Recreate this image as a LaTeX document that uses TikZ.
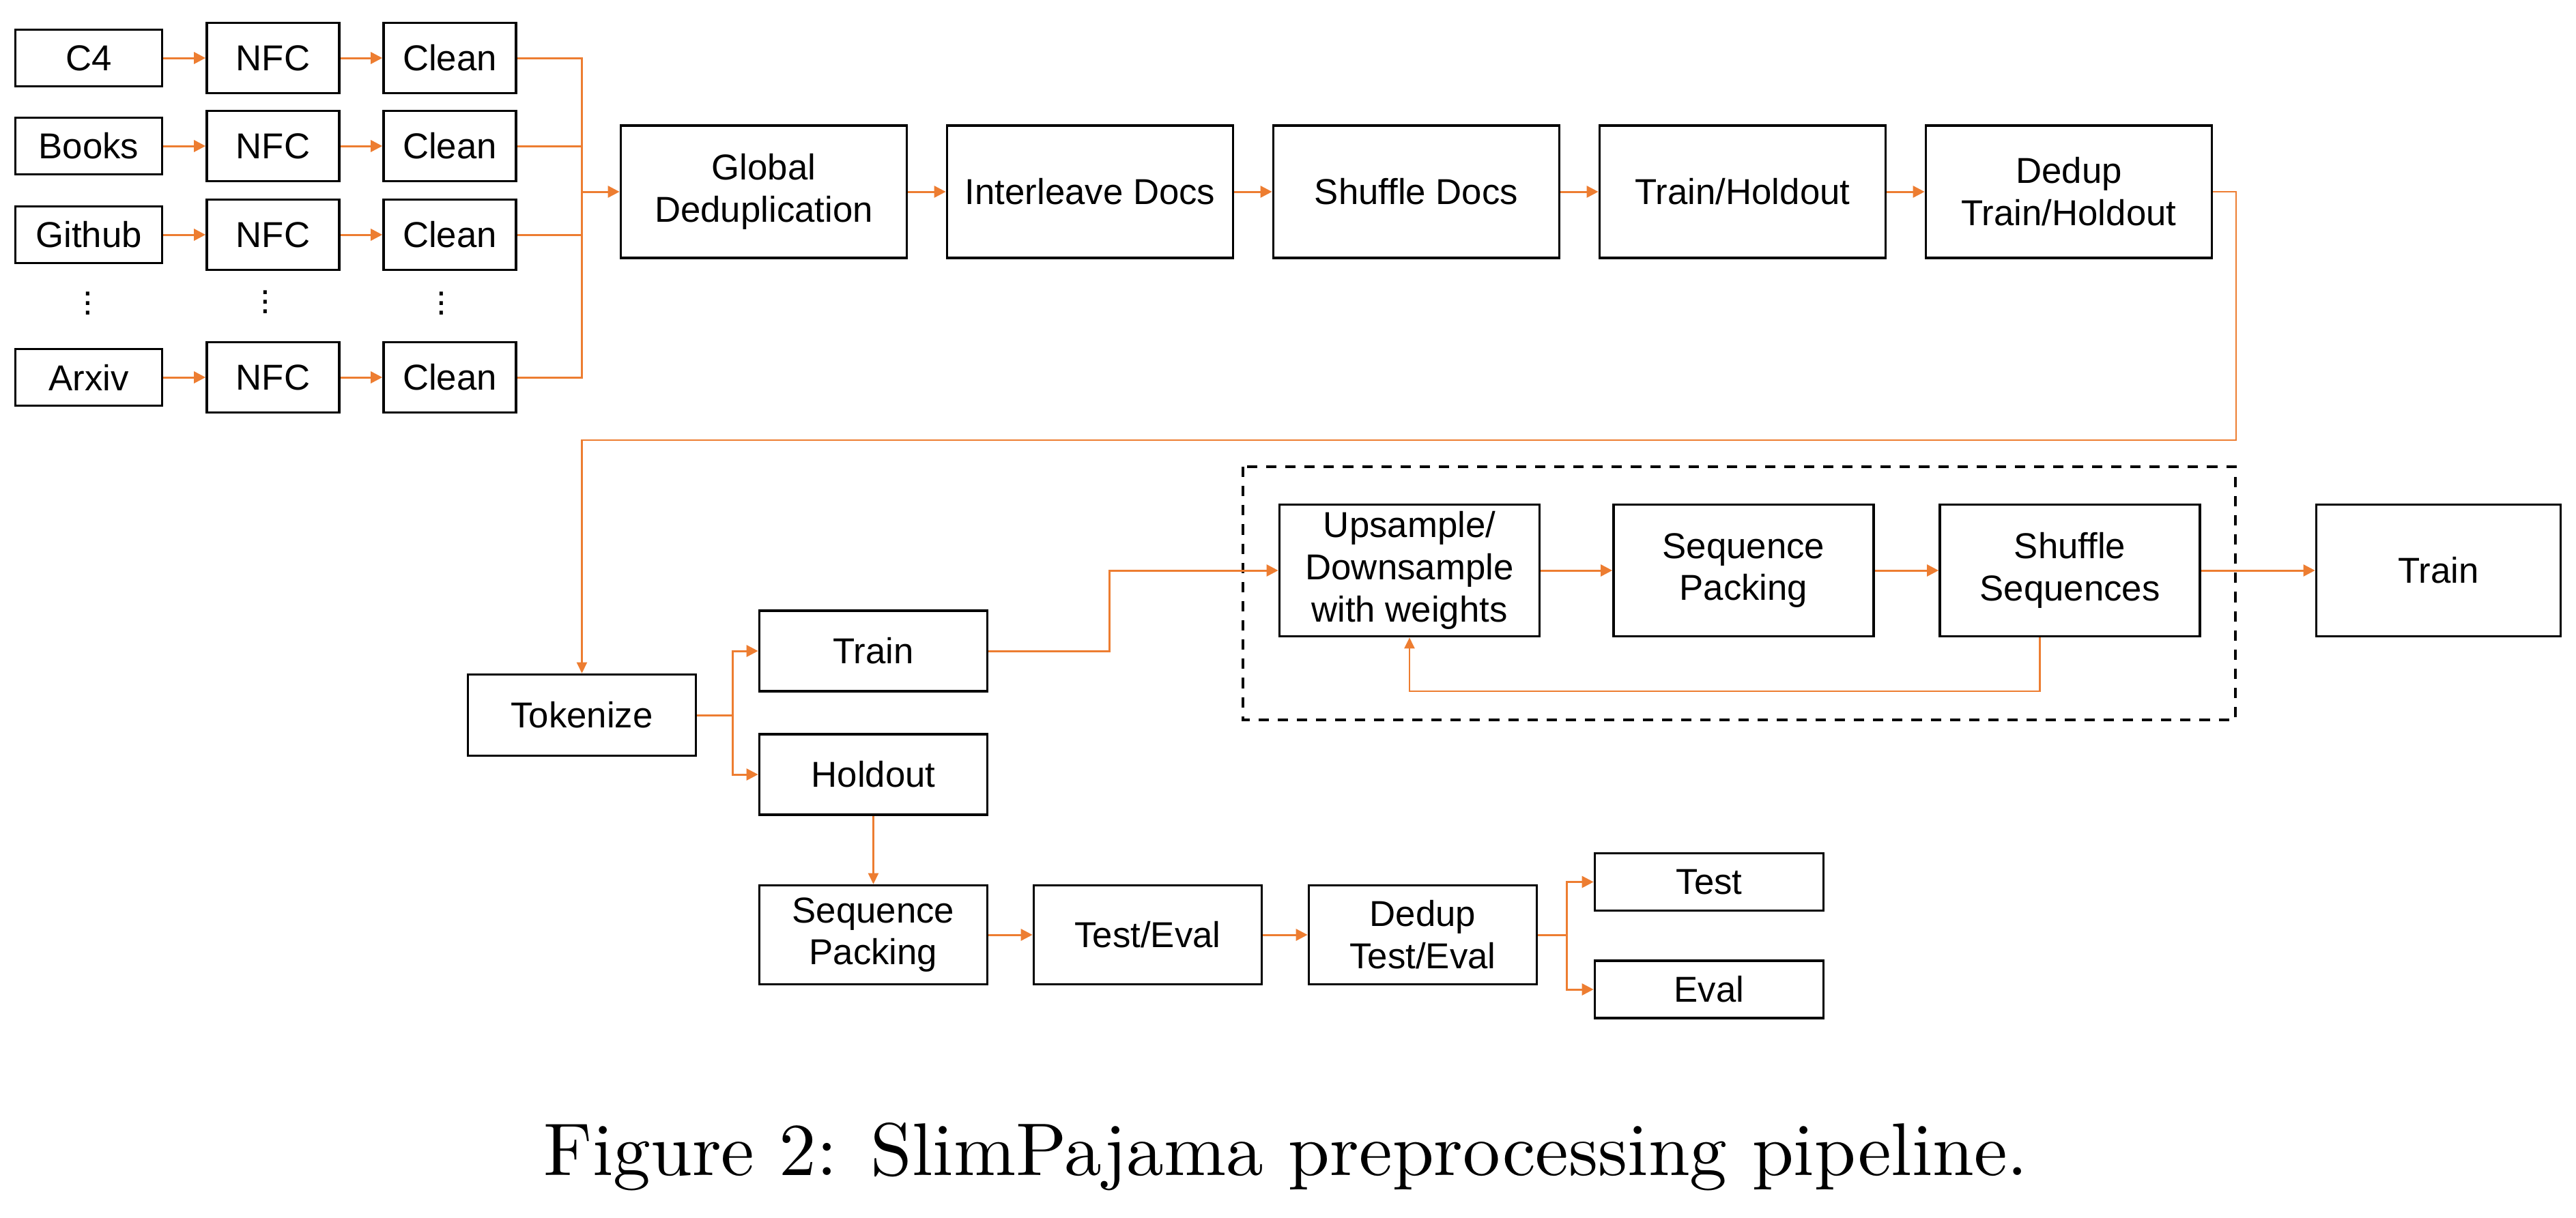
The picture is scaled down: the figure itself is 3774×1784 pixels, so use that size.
\documentclass[tikz,border=0pt]{standalone}
\usepackage{fontspec}
\newfontfamily\boxfont{Liberation Sans}
\newfontfamily\capfont{lmroman10-regular.otf}
\usepackage{tikz}
\usetikzlibrary{arrows.meta, positioning, calc}
\definecolor{myorange}{RGB}{237,125,49}
\tikzset{
  block/.style={rectangle, draw=black, fill=white, line width=1pt,
    align=center, inner sep=0pt, font=\boxfont\fontsize{15}{17.6}\selectfont},
  srcblock/.style={block, minimum width=2.15cm, minimum height=0.83cm},
  nfcblock/.style={block, minimum width=1.94cm, minimum height=1.03cm},
  wideblock/.style={block, minimum width=4.19cm, minimum height=1.94cm},
  seqblock/.style={block, minimum width=3.81cm, minimum height=1.93cm},
  midblock/.style={block, minimum width=3.34cm, minimum height=1.18cm},
  outblock/.style={block, minimum width=3.35cm, minimum height=0.84cm},
  dotnode/.style={font=\boxfont\fontsize{15}{17.6}\selectfont, inner sep=0pt},
  groupbox/.style={draw=black, line width=1pt, dash pattern=on 4.3pt off 3.7pt},
  arrow/.style={-{Triangle[length=0.17cm, width=0.17cm]}, line width=0.85pt, color=myorange},
  thinarrow/.style={-{Triangle[length=0.16cm, width=0.15cm]}, line width=0.65pt, color=myorange},
  line/.style={line width=0.85pt, color=myorange}
}

\begin{document}
\begin{tikzpicture}[x=0.01cm, y=-0.01cm]
  \useasboundingbox (0,0) rectangle (3774,1784);

  % sources -> NFC -> Clean
  \foreach \name/\txt/\y in {c4/C4/85, books/Books/214, github/Github/344, arxiv/Arxiv/553} {
    \node[srcblock] (src-\name) at (130,\y) {\txt};
    \node[nfcblock] (nfc-\name) at (400,\y) {NFC};
    \node[nfcblock] (cln-\name) at (659,\y) {Clean};
    \draw[arrow] (src-\name) -- (nfc-\name);
    \draw[arrow] (nfc-\name) -- (cln-\name);
  }
  \node[dotnode] (dots-src) at (129,434) {\vdots};
  \node[dotnode] (dots-nfc) at (389,432) {\vdots};
  \node[dotnode] (dots-cln) at (647,434) {\vdots};

  % merge bus
  \coordinate (bus) at (852,282);
  \draw[line] (cln-c4.east) -| (bus |- cln-arxiv.east) -- (cln-arxiv.east);
  \draw[line] (cln-books.east) -- (cln-books.east -| bus);
  \draw[line] (cln-github.east) -- (cln-github.east -| bus);

  % document stage
  \node[wideblock] (gdedup) at (1119,281) {Global\\Deduplication};
  \node[wideblock] (interleave) at (1597,281) {Interleave Docs};
  \node[wideblock] (shufdocs) at (2075,281) {Shuffle Docs};
  \node[wideblock] (trhold) at (2553,281) {Train/Holdout};
  \node[wideblock] (deduptrh) at (3031,281) {Dedup\\Train/Holdout};
  \draw[arrow] (bus |- gdedup) -- (gdedup);
  \draw[arrow] (gdedup) -- (interleave);
  \draw[arrow] (interleave) -- (shufdocs);
  \draw[arrow] (shufdocs) -- (trhold);
  \draw[arrow] (trhold) -- (deduptrh);

  % back down to tokenize
  \node[midblock, minimum height=1.19cm] (tokenize) at (852.5,1048) {Tokenize};
  \coordinate (turn) at (3276,645);
  \draw[thinarrow] (deduptrh.east) -| (turn) -| (tokenize.north);

  % split
  \node[midblock] (train) at (1279.5,954) {Train};
  \node[midblock] (holdout) at (1279.5,1135) {Holdout};
  \coordinate (split) at (1073,1048);
  \draw[line] (tokenize) -- (split);
  \draw[arrow] (split) |- (train);
  \draw[arrow] (split) |- (holdout);

  % sequence stage
  \draw[groupbox] (1821,684) rectangle (3275,1055);
  \node[seqblock] (upsample) at (2065,836) {Upsample/\\Downsample\\with weights};
  \node[seqblock] (seqpack) at (2554.5,836) {Sequence\\Packing};
  \node[seqblock] (shufseq) at (3032.5,836) {Shuffle\\Sequences};
  \node[seqblock, minimum width=3.58cm] (final) at (3572.5,836) {Train};
  \draw[arrow] (train.east) -- ++(177,0) |- (upsample);
  \draw[arrow] (upsample) -- (seqpack);
  \draw[arrow] (seqpack) -- (shufseq);
  \draw[arrow] (shufseq) -- (final);
  \draw[thinarrow] ([xshift=-0.44cm]shufseq.south) -- ++(0,79) -| (upsample.south);

  % holdout stage
  \node[midblock, minimum height=1.45cm] (seqpack2) at (1279.5,1370) {Sequence\\Packing};
  \node[midblock, minimum height=1.45cm] (testeval) at (1681.5,1370) {Test/Eval};
  \node[midblock, minimum height=1.45cm] (deduptev) at (2084.5,1370) {Dedup\\Test/Eval};
  \node[outblock] (test) at (2504,1292.5) {Test};
  \node[outblock] (eval) at (2504,1450) {Eval};
  \draw[thinarrow] (holdout) -- (seqpack2);
  \draw[arrow] (seqpack2) -- (testeval);
  \draw[arrow] (testeval) -- (deduptev);
  \coordinate (split2) at (2295,1370);
  \draw[line] (deduptev) -- (split2);
  \draw[arrow] (split2) |- (test);
  \draw[arrow] (split2) |- (eval);

  % caption
  \node[anchor=base, inner sep=0pt, font=\capfont\fontsize{31.1}{37}\selectfont] (caption) at (1884,1722)
    {Figure 2: SlimPajama preprocessing pipeline.};
\end{tikzpicture}
\end{document}
